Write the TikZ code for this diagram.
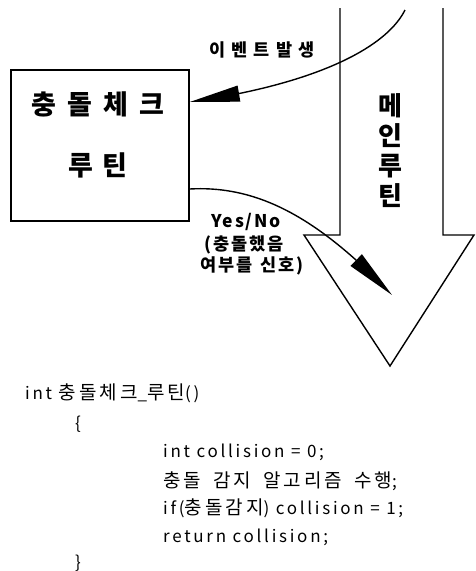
\documentclass[tikz,border=0pt]{standalone}
\usepackage{fontspec}
\newfontfamily\kr{Noto Sans CJK KR}
\newfontfamily\krwide[LetterSpace=10]{Noto Sans CJK KR}
\newfontfamily\krcode[LetterSpace=16]{Noto Sans CJK KR}
\newcommand\hk[1]{{\fontsize{19}{19}\selectfont #1}}
\newcommand\ksp{\hspace{12pt}}
\usetikzlibrary{arrows.meta,bending}
\tikzset{
  thickline/.style={line width=1.4pt},
  bigtext/.style={font=\kr\bfseries\fontsize{27}{27}\selectfont, inner sep=0pt},
  midtext/.style={font=\krwide\bfseries\fontsize{17.5}{18}\selectfont, inner sep=0pt, align=center},
  codetext/.style={font=\krcode\fontsize{17}{17}\selectfont, inner sep=0pt, anchor=west},
  bigtip/.style={-{Triangle[length=50pt,width=16pt]}},
}
\begin{document}
\begin{tikzpicture}[x=1pt,y=-1pt]
\useasboundingbox (0,0) rectangle (475,571);
% main routine big arrow
\draw[thickline, line join=miter] (340,8) -- (340,235) -- (304,235) -- (390,366) -- (474,235) -- (443,235) -- (443,8);
\node[font=\kr\bfseries\fontsize{26}{30}\selectfont, align=center, inner sep=0pt] (main) at (390,151) {메\\인\\루\\틴};
% collision check box
\node[draw, thickline, minimum width=178pt, minimum height=151pt, inner sep=0pt] (box) at (100,145.5) {};
\node[bigtext] (t1) at (98,104) {충\hspace{11pt}돌\hspace{11pt}체\hspace{11pt}크};
\node[bigtext] (t2) at (98,165) {루\hspace{10pt}틴};
% event arrow
\coordinate (evstart) at (405,10);
\coordinate (evend) at (box.east |- 0,102);
\draw[thickline, bigtip] (evstart) .. controls (385,50) and (310,85) .. (evend);
\node[midtext] (ev) at (262,50) {이\hspace{6pt}벤\hspace{6pt}트\hspace{6pt}발\hspace{6pt}생};
% yes/no arrow
\coordinate (ynstart) at (box.east |- 0,189);
\coordinate (ynend) at (392,295);
\draw[thickline, bigtip] (ynstart) .. controls (260,185) and (320,220) .. (ynend);
\node[midtext] (yn1) at (246,222) {Yes/No};
\node[midtext] (yn2) at (244,245) {(충돌했음};
\node[midtext] (yn3) at (252,266) {여부를\hspace{3pt} 신호)};
% code
\node[codetext] (c1) at (25,393) {int \hk{충돌체크}\_\hk{루틴}()};
\node[codetext] (c2) at (75,424) {\{};
\node[codetext] (c3) at (163,452) {int collision = 0;};
\node[codetext] (c4) at (163,481) {\hk{충돌\ksp 감지\ksp 알고리즘\ksp 수행};};
\node[codetext] (c5) at (163,508) {if(\hk{충돌감지}) collision = 1;};
\node[codetext] (c6) at (163,537) {return collision;};
\node[codetext] (c7) at (75,563) {\}};
\end{tikzpicture}
\end{document}
